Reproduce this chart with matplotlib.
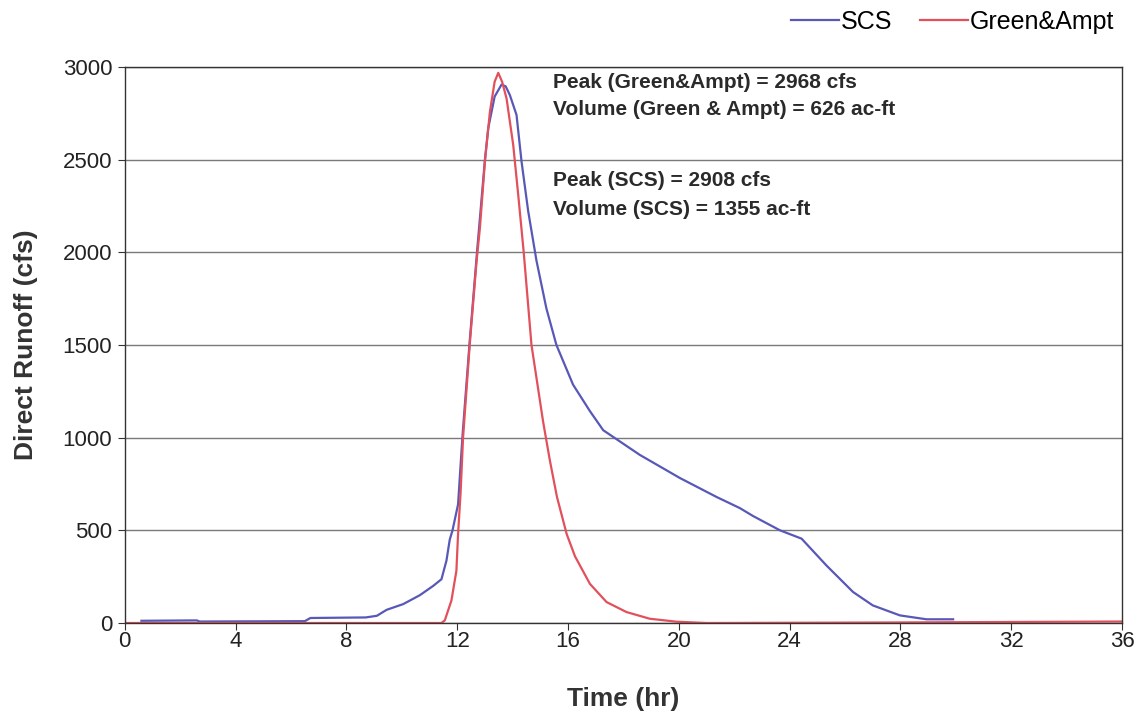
import matplotlib
matplotlib.use("Agg")
import matplotlib.pyplot as plt

plt.rcParams['font.family'] = ['Liberation Sans', 'DejaVu Sans']

# SCS hydrograph (time hr, runoff cfs)
scs_t = [0.6, 2.6, 2.7, 6.5, 6.7, 8.7, 9.1, 9.45, 10.05, 10.65, 11.13, 11.43,
         11.61, 11.73, 11.83, 12.03, 12.12, 12.2, 12.45, 12.73, 13.0, 13.12,
         13.35, 13.6, 13.75, 13.9, 14.14, 14.32, 14.56, 14.86, 15.22, 15.58,
         16.18, 16.79, 17.27, 18.59, 20.04, 21.36, 22.2, 22.68, 23.65, 24.43,
         25.33, 26.29, 27.0, 27.98, 28.94, 29.9]
scs_q = [12, 14, 8, 10, 27, 30, 39, 71, 102, 150, 200, 236,
         336, 450, 500, 640, 850, 1030, 1520, 2030, 2500, 2670,
         2840, 2905, 2895, 2848, 2741, 2491, 2223, 1955, 1696, 1500,
         1286, 1143, 1040, 907, 782, 680, 620, 577, 500, 455,
         310, 167, 95, 41, 20, 20]

# Green & Ampt hydrograph
ga_t = [0, 11.43, 11.55, 11.79, 11.97, 12.03, 12.12, 12.21, 12.45, 12.7, 12.82,
        13.0, 13.18, 13.35, 13.48, 13.62, 13.78, 14.02, 14.2, 14.4, 14.68, 15.1,
        15.34, 15.6, 15.95, 16.25, 16.79, 17.39, 18.11, 18.95, 19.92, 21.0,
        28.0, 36.0]
ga_q = [0, 0, 14, 121, 282, 480, 700, 1000, 1500, 1955, 2134,
        2491, 2759, 2920, 2968, 2920, 2830, 2580, 2312, 2000, 1500, 1086,
        880, 680, 480, 360, 211, 113, 59, 23, 7, 0,
        3, 8]

series_names = ["SCS", "Green&Ampt"]
series_colors = ["#5858b8", "#e2505c"]

x_ticks = list(range(0, 37, 4))
y_ticks = list(range(0, 3001, 500))

annot_lines = ["Peak (Green&Ampt) = 2968 cfs",
               "Volume (Green & Ampt) = 626 ac-ft",
               "Peak (SCS) = 2908 cfs",
               "Volume (SCS) = 1355 ac-ft"]
annot_x = 15.45
annot_y = [2914, 2768, 2385, 2229]

fig = plt.figure(figsize=(11.45, 7.12), dpi=100)
ax = fig.add_axes([0.109, 0.125, 0.871, 0.781])

l1, = ax.plot(scs_t, scs_q, color=series_colors[0], lw=1.6, label=series_names[0])
l2, = ax.plot(ga_t, ga_q, color=series_colors[1], lw=1.6, label=series_names[1])

ax.set_xlim(0, 36)
ax.set_ylim(0, 3000)
ax.set_xticks(x_ticks)
ax.set_yticks(y_ticks)
ax.yaxis.grid(True, color="#7a7a7a", lw=1.0)
ax.set_axisbelow(True)
for s in ax.spines.values():
    s.set_color("#333333")
    s.set_linewidth(1.0)
ax.tick_params(axis='both', labelsize=16, direction='out', length=5,
               color="#333333", labelcolor="#222222")
ax.tick_params(axis='y', pad=4)
ax.tick_params(axis='x', pad=1)

ax.set_xlabel("Time (hr)", fontsize=19, fontweight='bold', color="#333333", labelpad=25)
ax.set_ylabel("Direct Runoff (cfs)", fontsize=19, fontweight='bold', color="#333333", labelpad=18)

for txt, yv in zip(annot_lines, annot_y):
    ax.text(annot_x, yv, txt, fontsize=15, fontweight='bold', va='center', ha='left',
            color="#2a2a2a")

fig.legend(handles=[l1, l2], labels=series_names, loc='upper right',
           bbox_to_anchor=(0.993, 1.018), ncol=2, frameon=False, fontsize=18,
           handlelength=1.9, handletextpad=0.1, columnspacing=1.1)

fig.savefig("out.png", dpi=100, facecolor='white')
